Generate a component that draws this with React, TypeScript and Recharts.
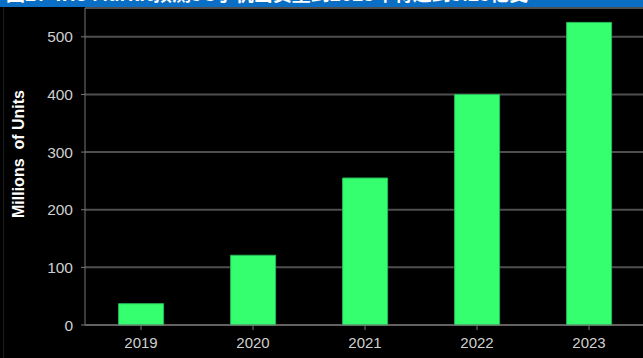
import React from "react";
import { BarChart, Bar, XAxis, YAxis, CartesianGrid } from "recharts";

const years = ["2019", "2020", "2021", "2022", "2023"];
const units = [37, 121, 255, 400, 525];
const yTicks = [0, 100, 200, 300, 400, 500];
const title = "图2：IHS Markit预测5G手机出货量到2023年将达到5.25亿支";

const data = years.map((year, i) => ({ year, units: units[i] }));

// rotated axis title, placed like the original slide
const YTitle = () => (
  <text
    x={18}
    y={154}
    transform="rotate(-90 18 154)"
    textAnchor="middle"
    dominantBaseline="central"
    fill="#fff"
    fontSize={16}
    fontWeight="bold"
    style={{ whiteSpace: "pre" }}
  >
    {"Millions  of Units"}
  </text>
);

const App = () => {
  return (
    <div
      style={{
        position: "absolute",
        left: 0,
        top: 0,
        width: 643,
        height: 358,
        overflow: "hidden",
        background: "#000",
        fontFamily: "'Liberation Sans', Arial, sans-serif",
      }}
    >
      <div
        style={{
          position: "absolute",
          left: 0,
          top: 0,
          width: 643,
          height: 7,
          background: "#0a6fc4",
          overflow: "hidden",
          zIndex: 2,
        }}
      >
        <div
          style={{
            position: "absolute",
            left: 6,
            top: -17,
            whiteSpace: "nowrap",
            color: "#fff",
            fontSize: 19,
            lineHeight: "20px",
            fontWeight: "bold",
            fontFamily: "'Noto Sans CJK SC', sans-serif",
          }}
        >
          {title}
        </div>
      </div>
      <div style={{ position: "absolute", left: 3, top: 7, width: 1, height: 351, background: "#1c1c1c" }} />
      <BarChart
        width={645}
        height={358}
        data={data}
        margin={{ top: 8, right: 0, bottom: 0, left: 0 }}
        barCategoryGap="30%"
      >
        <CartesianGrid vertical={false} stroke="#4f4f4f" strokeWidth={2} />
        <XAxis
          dataKey="year"
          height={33}
          stroke="#777"
          tickLine={{ stroke: "#777" }}
          tickSize={5}
          tickMargin={7}
          tick={{ fill: "#cfcfcf", fontSize: 15 }}
          interval={0}
        />
        <YAxis
          width={85}
          domain={[0, 550]}
          ticks={yTicks}
          stroke="#777"
          tickSize={4}
          tickMargin={8}
          tick={{ fill: "#cfcfcf", fontSize: 15.5 }}
          label={<YTitle />}
        />
        <Bar dataKey="units" fill="#35ff6e" stroke="#27b856" strokeWidth={1} isAnimationActive={false} />
      </BarChart>
    </div>
  );
};

export default App;
